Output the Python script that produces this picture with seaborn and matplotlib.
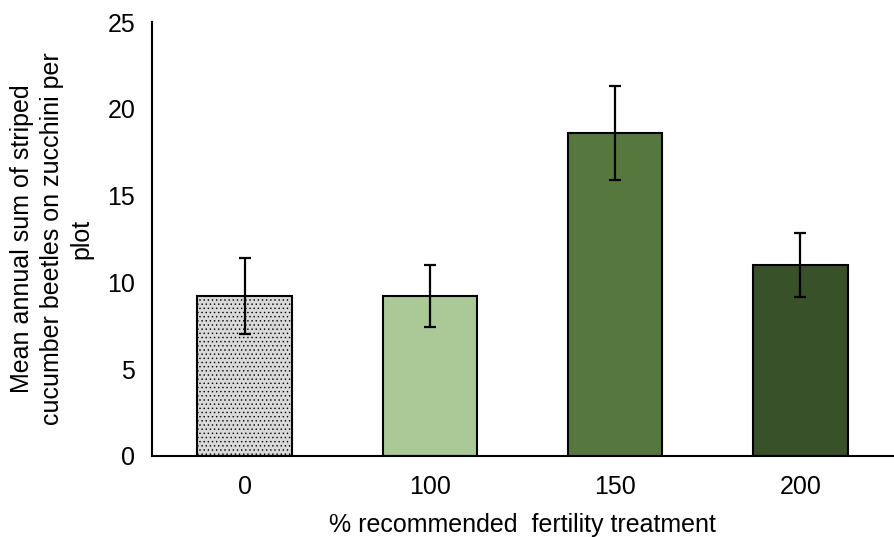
import matplotlib
matplotlib.use("Agg")
import matplotlib.pyplot as plt
import pandas as pd
import seaborn as sns

treatments = ["0", "100", "150", "200"]
means = [9.2, 9.2, 18.6, 11.0]
errors = [2.2, 1.8, 2.7, 1.85]
colors = ["#D9D9D9", "#A9D18E", "#548235", "#385723"]

sns.set_theme(style="white")
plt.rcParams["font.family"] = ["Liberation Sans", "DejaVu Sans"]
plt.rcParams["hatch.linewidth"] = 0.5

df = pd.DataFrame({"treatment": treatments, "mean": means})

fig = plt.figure(figsize=(8.94, 5.37), dpi=100)
ax = fig.add_axes([0.170, 0.151, 0.829, 0.808])

sns.barplot(data=df, x="treatment", y="mean", hue="treatment", palette=colors,
            legend=False, width=0.51, edgecolor="black", linewidth=1.5, ax=ax)

# faint speckle texture on the control bar
ctrl = ax.patches[0]
ctrl.set_hatch("....")
if hasattr(ctrl, "set_hatchcolor"):
    ctrl.set_hatchcolor("#CDCDCD")

ax.errorbar(x=range(len(treatments)), y=means, yerr=errors, fmt="none",
            ecolor="black", elinewidth=1.6, capsize=4.5, capthick=1.6)

ax.set_xlim(-0.5, 3.5)
ax.set_ylim(0, 25)
ax.set_yticks([0, 5, 10, 15, 20, 25])
ax.tick_params(axis="both", length=0, labelsize=18, colors="black")
ax.tick_params(axis="y", pad=12)
ax.tick_params(axis="x", pad=14)
ax.set_xlabel("% recommended  fertility treatment", fontsize=18, labelpad=10,
              color="black")
ax.set_ylabel("Mean annual sum of striped\ncucumber beetles on zucchini per\nplot",
              fontsize=18, labelpad=10, linespacing=1.3, color="black")

for side in ["top", "right"]:
    ax.spines[side].set_visible(False)
for side in ["left", "bottom"]:
    ax.spines[side].set_color("black")
    ax.spines[side].set_linewidth(1.5)

fig.savefig("out.png", dpi=100)
